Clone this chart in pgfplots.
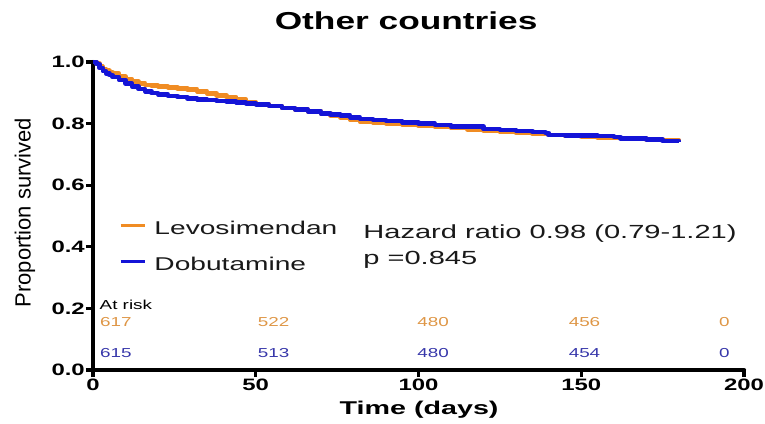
\documentclass[border=0pt]{standalone}
\usepackage{fontspec}
\setmainfont{Liberation Sans}
\usepackage{graphicx}
\usepackage{pgfplots}
\pgfplotsset{compat=1.18}

\definecolor{levo}{RGB}{240,140,35}
\definecolor{dobu}{RGB}{20,20,215}
\definecolor{levotxt}{RGB}{222,150,70}
\definecolor{dobutxt}{RGB}{55,55,170}
\definecolor{ink}{RGB}{25,25,25}

% horizontally widened text
\newcommand\wide[2]{\scalebox{#1}[1]{#2}}
\newcommand\tl[1]{\wide{1.45}{\fontsize{16.5}{18}\selectfont\bfseries #1}}
\newcommand\rs[1]{\wide{1.45}{\fontsize{13}{15}\selectfont #1}}

% Kaplan-Meier estimates (days, proportion surviving)
\pgfplotstableread{
t s
0 1.000
1 0.995
2 0.985
3 0.978
4 0.972
5 0.967
6 0.962
8 0.953
10 0.944
12 0.937
14 0.931
16 0.926
18 0.923
20 0.921
23 0.918
26 0.914
29 0.911
32 0.905
35 0.898
38 0.892
41 0.886
44 0.878
47 0.870
50 0.864
54 0.857
58 0.851
62 0.846
66 0.840
70 0.833
73 0.826
76 0.820
79 0.812
82 0.806
86 0.803
90 0.800
95 0.797
100 0.792
105 0.789
110 0.785
115 0.781
120 0.777
125 0.772
130 0.769
135 0.766
140 0.763
145 0.760
150 0.757
155 0.755
160 0.753
165 0.751
170 0.749
175 0.746
180 0.742
}\levotable

\pgfplotstableread{
t s
0 1.000
1 0.993
2 0.980
3 0.970
4 0.963
5 0.957
6 0.951
8 0.942
10 0.930
12 0.920
14 0.912
16 0.905
18 0.899
20 0.895
23 0.890
26 0.886
29 0.882
32 0.879
35 0.877
38 0.874
41 0.872
44 0.869
47 0.865
50 0.862
54 0.857
58 0.851
62 0.846
66 0.840
70 0.832
73 0.829
76 0.827
79 0.820
82 0.815
86 0.812
90 0.809
95 0.804
100 0.800
105 0.796
110 0.791
115 0.790
120 0.782
125 0.780
130 0.776
135 0.772
139 0.770
140 0.763
145 0.762
150 0.761
155 0.760
160 0.757
162 0.752
165 0.751
170 0.748
175 0.744
180 0.739
}\dobutable

\begin{document}
\begin{tikzpicture}
\useasboundingbox (-93pt,-53pt) rectangle (672pt,370pt);
\begin{axis}[
  scale only axis,
  width=651pt, height=308pt,
  xmin=0, xmax=200, ymin=0, ymax=1,
  axis lines*=left,
  axis line style={line width=4.2pt, line cap=round, black},
  tick style={line width=3.2pt, black},
  tick align=outside,
  major tick length=7pt,
  xtick={0,50,100,150,200},
  xticklabels={\tl{0},\tl{50},\tl{100},\tl{150},\tl{200}},
  ytick={0,0.2,0.4,0.6,0.8,1},
  yticklabels={\tl{0.0},\tl{0.2},\tl{0.4},\tl{0.6},\tl{0.8},\tl{1.0}},
  xticklabel style={anchor=north, inner sep=0pt, yshift=-2pt},
  yticklabel style={anchor=east, inner sep=1pt},
  clip=false,
  legend style={at={(axis cs:7,0.496)}, anchor=north west, draw=none, fill=none,
    font=\fontsize{18.5}{22}\selectfont, text=ink, row sep=17pt, column sep=6pt,
    legend cell align=left},
  legend image code/.code={\draw[#1, line width=3.5pt] (0pt,0.35em) -- (24pt,0.35em);},
]
\addplot[const plot, levo, line width=4.5pt, line join=round] table[x=t, y=s] {\levotable};
\addlegendentry{\wide{1.52}{Levosimendan}}
\addplot[const plot, dobu, line width=4.5pt, line join=round] table[x=t, y=s] {\dobutable};
\addlegendentry{\wide{1.52}{Dobutamine}}

% title and axis titles
\node[anchor=base, text=black] at (axis cs:96.2,1.104)
  {\wide{1.44}{\fontsize{24.5}{28}\selectfont\bfseries Other countries}};
\node[anchor=base, text=black] at (axis cs:100.2,-0.146)
  {\wide{1.55}{\fontsize{18.5}{22}\selectfont\bfseries Time (days)}};
\node[rotate=90, inner sep=0pt, text=black] at (axis cs:-20.9,0.511)
  {\fontsize{22}{26}\selectfont Proportion survived};

% hazard ratio
\node[anchor=base west, inner sep=0pt, text=ink] at (axis cs:83,0.428)
  {\wide{1.53}{\fontsize{19}{22}\selectfont Hazard ratio 0.98 (0.79-1.21)}};
\node[anchor=base west, inner sep=0pt, text=ink] at (axis cs:83,0.341)
  {\wide{1.53}{\fontsize{19}{22}\selectfont p =0.845}};

% numbers at risk
\node[anchor=base west, inner sep=0pt, text=black] at (axis cs:2,0.198) {\rs{At risk}};
\node[anchor=base, inner sep=0pt, text=levotxt] at (axis cs:7,0.140) {\rs{617}};
\node[anchor=base, inner sep=0pt, text=levotxt] at (axis cs:55.5,0.140) {\rs{522}};
\node[anchor=base, inner sep=0pt, text=levotxt] at (axis cs:104.5,0.140) {\rs{480}};
\node[anchor=base, inner sep=0pt, text=levotxt] at (axis cs:151,0.140) {\rs{456}};
\node[anchor=base, inner sep=0pt, text=levotxt] at (axis cs:194,0.140) {\rs{0}};
\node[anchor=base, inner sep=0pt, text=dobutxt] at (axis cs:7,0.039) {\rs{615}};
\node[anchor=base, inner sep=0pt, text=dobutxt] at (axis cs:55.5,0.039) {\rs{513}};
\node[anchor=base, inner sep=0pt, text=dobutxt] at (axis cs:104.5,0.039) {\rs{480}};
\node[anchor=base, inner sep=0pt, text=dobutxt] at (axis cs:151,0.039) {\rs{454}};
\node[anchor=base, inner sep=0pt, text=dobutxt] at (axis cs:194,0.039) {\rs{0}};
\end{axis}
\end{tikzpicture}
\end{document}
